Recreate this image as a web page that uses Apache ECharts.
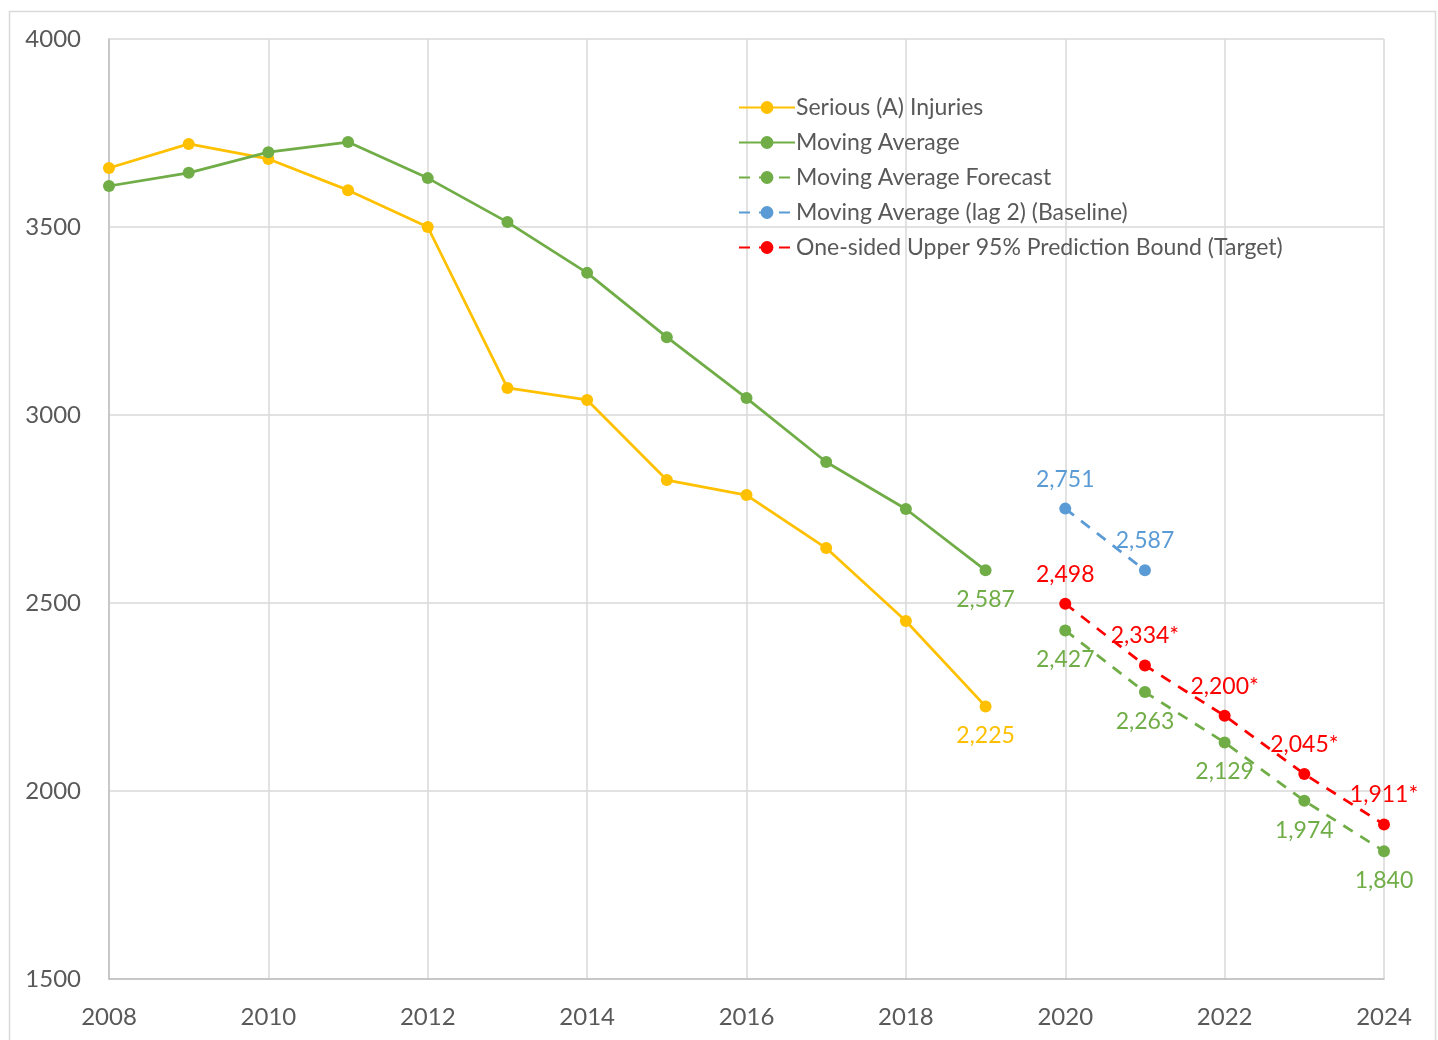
<!DOCTYPE html>
<html>
<head>
<meta charset="utf-8">
<script src="https://cdn.jsdelivr.net/npm/echarts@6/dist/echarts.min.js"></script>
<style>
  html, body { margin: 0; padding: 0; background: #fff; }
  #main { width: 1438px; height: 1040px; }
</style>
</head>
<body>
<div id="main"></div>
<script>
  // data
  const histYears = [2008, 2009, 2010, 2011, 2012, 2013, 2014, 2015, 2016, 2017, 2018, 2019];
  const seriousA = [3657, 3721, 3681, 3598, 3500, 3072, 3040, 2827, 2787, 2646, 2452, 2225];
  const movingAvg = [3609, 3644, 3699, 3726, 3630, 3513, 3378, 3207, 3045, 2875, 2750, 2587];
  const forecastYears = [2020, 2021, 2022, 2023, 2024];
  const forecast = [2427, 2263, 2129, 1974, 1840];
  const baselineYears = [2020, 2021];
  const baseline = [2751, 2587];
  const target = [2498, 2334, 2200, 2045, 1911];
  const targetStar = [false, true, true, true, true];

  const font = 'Lato';
  const textColor = '#595959';
  const fmt = v => v.toLocaleString('en-US');

  function pairs(xs, ys) {
    return xs.map((x, i) => [x, ys[i]]);
  }

  let main = document.getElementById('main');
  let myechart = echarts.init(main);

  let option = {
    animation: false,
    textStyle: { fontFamily: font },
    graphic: [{
      type: 'rect',
      shape: { x: 9.5, y: 11.5, width: 1426, height: 1100 },
      style: { fill: 'none', stroke: '#d9d9d9', lineWidth: 1.5 },
      silent: true
    }],
    grid: { left: 109, right: 54, top: 39, bottom: 61 },
    legend: {
      orient: 'vertical',
      left: 733,
      top: 91,
      itemWidth: 56,
      itemHeight: 16,
      itemGap: 12,
      textStyle: { fontFamily: font, fontSize: 23, color: textColor, padding: [0, 0, 0, -4] }
    },
    xAxis: {
      type: 'value',
      min: 2008,
      max: 2024,
      interval: 2,
      axisLine: { show: true, lineStyle: { color: '#bfbfbf', width: 1.5 } },
      axisTick: { show: false },
      splitLine: { show: true, lineStyle: { color: '#d9d9d9', width: 1.5 } },
      axisLabel: { color: textColor, fontSize: 24, fontFamily: font, margin: 26, formatter: v => String(v) }
    },
    yAxis: {
      type: 'value',
      min: 1500,
      max: 4000,
      interval: 500,
      axisLine: { show: true, lineStyle: { color: '#bfbfbf', width: 1.5 } },
      axisTick: { show: false },
      splitLine: { show: true, lineStyle: { color: '#d9d9d9', width: 1.5 } },
      axisLabel: { color: textColor, fontSize: 24, fontFamily: font, margin: 28, formatter: v => String(v) }
    },
    series: [{
        name: 'Serious (A) Injuries',
        type: 'line',
        data: pairs(histYears, seriousA),
        symbol: 'circle',
        symbolSize: 12,
        itemStyle: { color: '#FFC000' },
        lineStyle: { width: 2.75, color: '#FFC000' },
        label: {
          show: true,
          position: 'bottom',
          distance: 12,
          fontSize: 23,
          fontFamily: font,
          color: '#FFC000',
          formatter: p => p.dataIndex === seriousA.length - 1 ? fmt(p.value[1]) : ''
        },
        z: 3
      },
      {
        name: 'Moving Average',
        type: 'line',
        data: pairs(histYears, movingAvg),
        symbol: 'circle',
        symbolSize: 12,
        itemStyle: { color: '#70AD47' },
        lineStyle: { width: 2.75, color: '#70AD47' },
        label: {
          show: true,
          position: 'bottom',
          distance: 12,
          fontSize: 23,
          fontFamily: font,
          color: '#70AD47',
          formatter: p => p.dataIndex === movingAvg.length - 1 ? fmt(p.value[1]) : ''
        },
        z: 3
      },
      {
        name: 'Moving Average Forecast',
        type: 'line',
        data: pairs(forecastYears, forecast),
        symbol: 'circle',
        symbolSize: 12,
        itemStyle: { color: '#70AD47' },
        lineStyle: { width: 2.75, color: '#70AD47', type: [11, 9] },
        label: {
          show: true,
          position: 'bottom',
          distance: 12,
          fontSize: 23,
          fontFamily: font,
          color: '#70AD47',
          formatter: p => fmt(p.value[1])
        },
        z: 3
      },
      {
        name: 'Moving Average (lag 2) (Baseline)',
        type: 'line',
        data: pairs(baselineYears, baseline),
        symbol: 'circle',
        symbolSize: 12,
        itemStyle: { color: '#5B9BD5' },
        lineStyle: { width: 2.75, color: '#5B9BD5', type: [11, 9] },
        label: {
          show: true,
          position: 'top',
          distance: 12,
          fontSize: 23,
          fontFamily: font,
          color: '#5B9BD5',
          formatter: p => fmt(p.value[1])
        },
        z: 3
      },
      {
        name: 'One-sided Upper 95% Prediction Bound (Target)',
        type: 'line',
        data: pairs(forecastYears, target),
        symbol: 'circle',
        symbolSize: 12,
        itemStyle: { color: '#FF0000' },
        lineStyle: { width: 2.75, color: '#FF0000', type: [11, 9] },
        label: {
          show: true,
          position: 'top',
          distance: 12,
          fontSize: 23,
          fontFamily: font,
          color: '#FF0000',
          formatter: p => fmt(p.value[1]) + (targetStar[p.dataIndex] ? '*' : '')
        },
        z: 3
      }
    ]
  };
  myechart.setOption(option);
</script>
</body>
</html>
